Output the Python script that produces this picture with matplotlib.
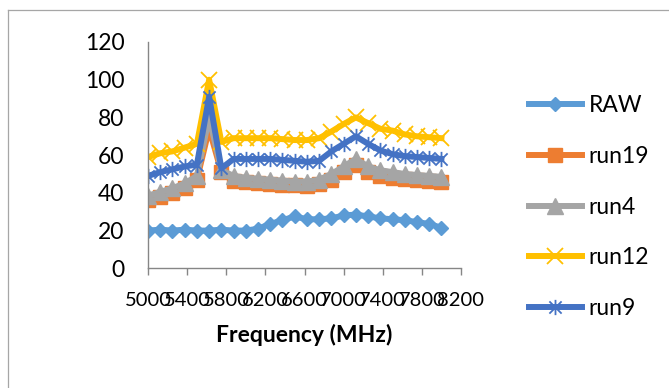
import matplotlib
matplotlib.use("Agg")
import matplotlib.pyplot as plt
from matplotlib.path import Path
from matplotlib.lines import Line2D
import numpy as np

plt.rcParams['font.family'] = ['Lato', 'DejaVu Sans']

# ---- data ----
freq = [5000, 5125, 5250, 5375, 5500, 5625, 5750, 5875, 6000, 6125, 6250, 6375, 6500,
        6625, 6750, 6875, 7000, 7125, 7250, 7375, 7500, 7625, 7750, 7875, 8000]
raw = [20, 20.5, 20, 20.5, 20, 20, 20.5, 20, 20, 21, 23.5, 25.5, 27.5, 26, 26, 26.5,
       28, 28.5, 27.5, 26.5, 26, 25.5, 24.5, 23.5, 21.5]
run19 = [36, 38, 40, 42.5, 47, 74, 51, 46.5, 45.5, 45, 44.5, 44, 44, 43.5, 44.5, 47,
         51, 55, 51, 49, 48, 47.5, 47, 46.5, 46]
run4 = [38.5, 40.5, 42.5, 45, 49, 80, 52, 49, 48, 47.5, 47, 46.5, 46, 46, 47, 50, 54, 58,
        54, 52, 51, 50, 49.5, 49, 48.5]
run12 = [59, 61, 62, 64, 66, 100, 67, 69, 69, 69, 69, 68.5, 68, 68, 69, 72.5, 76.5,
         80, 77, 74, 73, 71, 70, 69.5, 69]
run9 = [49, 51, 52.5, 54, 55, 91, 53, 58, 58, 58, 58, 57.5, 57, 56.5, 57, 62, 66, 70,
        66, 62.5, 60.5, 59.5, 59, 58.5, 58]
series_names = ["RAW", "run19", "run4", "run12", "run9"]
xticks = [5000, 5400, 5800, 6200, 6600, 7000, 7400, 7800, 8200]
yticks = [0, 20, 40, 60, 80, 100, 120]
x_title = "Frequency (MHz)"

W, H = 669, 388
fig = plt.figure(figsize=(W / 100, H / 100), dpi=100)

# chart border (top and left visible)
fig.add_artist(Line2D([8 / W, 1.0], [1 - 10 / H, 1 - 10 / H], color='#A6A6A6', lw=0.9,
                      transform=fig.transFigure))
fig.add_artist(Line2D([8 / W, 8 / W], [1 - 10 / H, 0.0], color='#A6A6A6', lw=0.9,
                      transform=fig.transFigure))

x0, x1 = 148, 461
y0, y1 = 268.3, 42
ax = fig.add_axes([x0 / W, 1 - y0 / H, (x1 - x0) / W, (y0 - y1) / H])

star = Path([(-1, -1), (1, 1), (-1, 1), (1, -1), (0, -1.25), (0, 1.25)],
            [Path.MOVETO, Path.LINETO, Path.MOVETO, Path.LINETO, Path.MOVETO, Path.LINETO])

lw = 4.3
ax.plot(freq, raw, color='#5B9BD5', lw=lw, marker='D', ms=7.2, mec='#5B9BD5',
        mfc='#5B9BD5', label=series_names[0], solid_joinstyle='miter')
ax.plot(freq, run19, color='#ED7D31', lw=lw, marker='s', ms=9.5, mec='#ED7D31',
        mfc='#ED7D31', label=series_names[1])
ax.plot(freq, run4, color='#A5A5A5', lw=lw, marker='^', ms=12, mec='#A5A5A5',
        mfc='#A5A5A5', label=series_names[2])
ax.plot(freq, run12, color='#FFC000', lw=lw, marker='x', ms=11, mew=1.3,
        mec='#FFC000', label=series_names[3])
ax.plot(freq, run9, color='#4472C4', lw=lw, marker=star, ms=11, mew=1.3,
        mec='#4472C4', mfc='none', label=series_names[4])

fs = 16.5
ax.set_xlim(5000, 8200)
ax.set_ylim(0, 120)
ax.set_xticks(xticks)
ax.set_xticklabels([str(v) for v in xticks])
ax.set_yticks(yticks)
for s in ['top', 'right']:
    ax.spines[s].set_visible(False)
for s in ['left', 'bottom']:
    ax.spines[s].set_color('#868686')
    ax.spines[s].set_linewidth(1.0)
ax.tick_params(axis='x', length=5, width=1.0, color='#868686', pad=12,
               labelsize=14.5, labelcolor='black')
ax.tick_params(axis='y', length=0, pad=17, labelsize=fs, labelcolor='black')
ax.set_xlabel(x_title, fontsize=fs, fontweight='bold', labelpad=11)
ax.set_facecolor('none')

leg = ax.legend(loc='upper left', bbox_to_anchor=(529 / W, 1 - 95 / H),
                bbox_transform=fig.transFigure, frameon=False, fontsize=fs,
                handlelength=2.3, handletextpad=0.3, labelspacing=1.3,
                borderpad=0, borderaxespad=0)

fig.savefig('out.png', dpi=100)
